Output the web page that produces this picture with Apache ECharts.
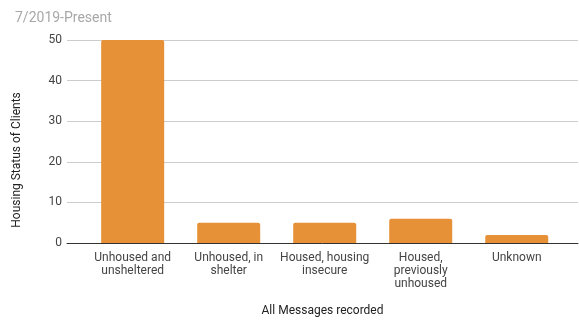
<!DOCTYPE html>
<html>
<head>
<meta charset="utf-8">
<script src="https://cdn.jsdelivr.net/npm/echarts@6/dist/echarts.min.js"></script>
<style>
  html, body { margin: 0; padding: 0; background: #fff; }
  #chart { width: 579px; height: 320px; }
</style>
</head>
<body>
<div id="chart"></div>
<script>
// Housing status counts, July 2019 to present
const titleText = '7/2019-Present';
const categories = [
  'Unhoused and\nunsheltered',
  'Unhoused, in\nshelter',
  'Housed, housing\ninsecure',
  'Housed,\npreviously\nunhoused',
  'Unknown'
];
const clientCounts = [50, 5, 5, 6, 2];
const yTicks = { min: 0, max: 50, interval: 10 };
const yAxisTitle = 'Housing Status of Clients';
const xAxisTitle = 'All Messages recorded';

const FONT = 'Roboto, "Noto Sans", sans-serif';
const categoryIndex = categories.map((_, i) => i);
const barData = categoryIndex.map(i => [i, clientCounts[i]]);

const chart = echarts.init(document.getElementById('chart'), null, { renderer: 'canvas' });

chart.setOption({
  animation: false,
  backgroundColor: '#ffffff',
  textStyle: { fontFamily: FONT },
  title: {
    text: titleText,
    left: 10, top: 6,
    textStyle: { color: '#a8a8a8', fontSize: 14, fontWeight: 'normal', fontFamily: FONT }
  },
  grid: { left: 67, right: 1, top: 40, height: 203, outerBoundsMode: 'none', containLabel: false },
  xAxis: {
    // categories sit on integer positions; the extent leaves the side margins
    type: 'value', min: -0.684, max: 4.638,
    axisLine: { show: true, onZero: false, lineStyle: { color: '#333333', width: 1 } },
    axisTick: { show: false },
    splitLine: { show: false },
    axisLabel: {
      customValues: categoryIndex,
      formatter: v => categories[Math.round(v)],
      color: '#444444', fontSize: 12, lineHeight: 13, margin: 8,
      fontFamily: FONT
    },
    name: xAxisTitle, nameLocation: 'middle', nameGap: 62,
    nameTextStyle: { color: '#222222', fontSize: 12, fontFamily: FONT }
  },
  yAxis: {
    type: 'value',
    min: yTicks.min, max: yTicks.max, interval: yTicks.interval,
    axisLine: { show: false }, axisTick: { show: false },
    axisLabel: { color: '#444444', fontSize: 12, margin: 5, fontFamily: FONT },
    splitLine: { lineStyle: { color: '#cccccc', width: 1 } }
  },
  graphic: [
    {
      type: 'text', x: 17, y: 160, rotation: Math.PI / 2,
      style: {
        text: yAxisTitle, fill: '#222222', fontSize: 12, fontFamily: FONT,
        align: 'center', verticalAlign: 'middle'
      }
    }
  ],
  series: [
    {
      type: 'bar',
      data: barData, barWidth: 63,
      itemStyle: { color: '#e69138', borderRadius: [2, 2, 0, 0] }
    }
  ]
});
</script>
</body>
</html>
